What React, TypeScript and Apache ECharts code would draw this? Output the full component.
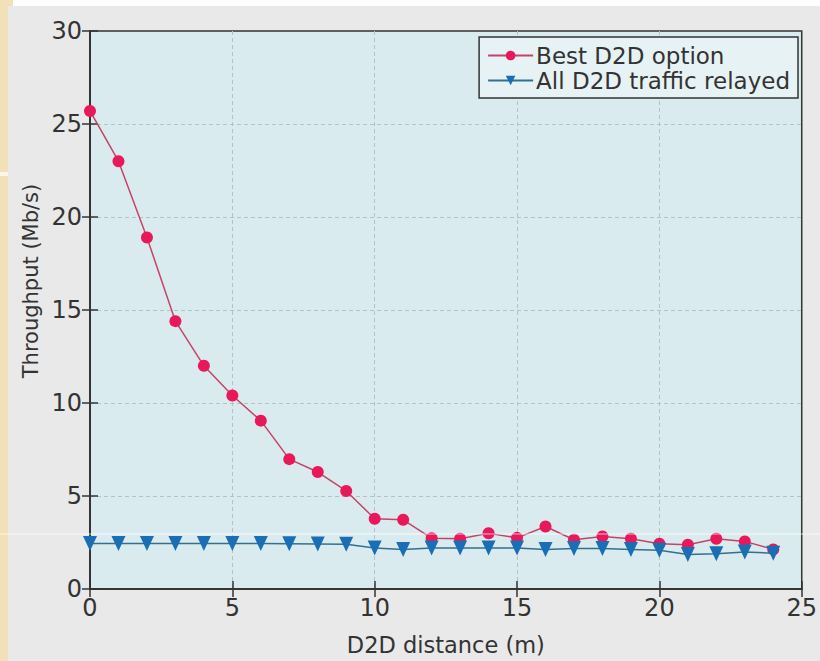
import React, { useEffect, useRef } from "react";
import * as echarts from "echarts";

const distances = [0, 1, 2, 3, 4, 5, 6, 7, 8, 9, 10, 11, 12, 13, 14, 15, 16, 17, 18, 19, 20, 21, 22, 23, 24];
const bestD2D = [25.7, 23.0, 18.9, 14.4, 12.0, 10.4, 9.05, 6.98, 6.29, 5.27, 3.78, 3.72, 2.73, 2.7, 3.0, 2.75, 3.36, 2.65, 2.82, 2.7, 2.43, 2.38, 2.7, 2.56, 2.13];
const allRelayed = [2.45, 2.45, 2.45, 2.45, 2.45, 2.44, 2.44, 2.43, 2.42, 2.4, 2.2, 2.13, 2.2, 2.2, 2.2, 2.2, 2.13, 2.18, 2.18, 2.13, 2.08, 1.85, 1.9, 1.99, 1.92];
const seriesNames = ["Best D2D option", "All D2D traffic relayed"];
const xTicks = { min: 0, max: 25, interval: 5 };
const yTicks = { min: 0, max: 30, interval: 5 };

const FONT = "'DejaVu Sans', 'Noto Sans', sans-serif";

export default function App() {
  const ref = useRef<HTMLDivElement>(null);
  useEffect(() => {
    if (!ref.current) return;
    const chart = echarts.init(ref.current, undefined, { renderer: "svg" });
    const hiddenAxis = {
      axisLine: { show: true, lineStyle: { color: "#333", width: 1.5 } },
      axisTick: { show: true, inside: true, length: 8, lineStyle: { color: "#333", width: 1.5 } },
      axisLabel: { show: false },
      splitLine: { show: false },
    };
    const gridLine = { show: true, showMinLine: false, showMaxLine: false, lineStyle: { color: "#b4c2c6", type: [4, 3], width: 1 } };
    chart.setOption({
      animation: false,
      backgroundColor: "#e9e9e9",
      textStyle: { fontFamily: FONT },
      graphic: [
        { type: "rect", z: -10, shape: { x: 0, y: 0, width: 8, height: 661 }, style: { fill: "#f1e0b8" } },
        { type: "rect", z: -10, shape: { x: 0, y: 0, width: 13, height: 6 }, style: { fill: "#f1e0b8" } },
        { type: "rect", z: -10, shape: { x: 13, y: 0, width: 807, height: 6 }, style: { fill: "#ffffff" } },
        { type: "rect", z: -9, shape: { x: 0, y: 172, width: 8, height: 4 }, style: { fill: "#fbf6ea" } },
        { type: "line", z: 100, shape: { x1: 0, y1: 534, x2: 820, y2: 534 }, style: { stroke: "#ffffff", lineWidth: 1, opacity: 0.7 } },
        {
          type: "text",
          x: 31,
          y: 281,
          rotation: Math.PI / 2,
          style: { text: "Throughput (Mb/s)", font: `21px ${FONT}`, fill: "#333", align: "center", verticalAlign: "middle" },
        },
      ],
      grid: {
        left: 90,
        right: 17,
        top: 31,
        bottom: 67,
        show: true,
        backgroundColor: "#d9ebee",
        borderColor: "#333",
        borderWidth: 1.5,
      },
      legend: {
        orient: "vertical",
        right: 22,
        top: 37,
        padding: [7, 8, 6, 8],
        itemWidth: 45,
        itemHeight: 12,
        itemGap: 2,
        backgroundColor: "#e6f2f4",
        borderColor: "#333",
        borderWidth: 1.5,
        borderRadius: 0,
        textStyle: { fontSize: 23, color: "#333", fontFamily: FONT, padding: [0, 0, 0, -2] },
        data: seriesNames,
      },
      xAxis: [
        {
          type: "value",
          ...xTicks,
          name: "D2D distance (m)",
          nameLocation: "middle",
          nameGap: 44,
          nameTextStyle: { fontSize: 22.5, color: "#333", fontFamily: FONT },
          axisLine: { show: true, lineStyle: { color: "#333", width: 1.5 } },
          axisTick: { show: true, inside: true, length: 8, lineStyle: { color: "#333", width: 1.5 } },
          axisLabel: { fontSize: 24, color: "#333", margin: 7, fontFamily: FONT },
          splitLine: gridLine,
        },
        { type: "value", position: "top", ...xTicks, ...hiddenAxis },
      ],
      yAxis: [
        {
          type: "value",
          ...yTicks,
          axisLine: { show: true, lineStyle: { color: "#333", width: 1.5 } },
          axisTick: { show: true, inside: true, length: 8, lineStyle: { color: "#333", width: 1.5 } },
          axisLabel: { fontSize: 24, color: "#333", margin: 8, fontFamily: FONT },
          splitLine: gridLine,
        },
        { type: "value", position: "right", ...yTicks, ...hiddenAxis },
      ],
      series: [
        {
          name: seriesNames[0],
          type: "line",
          data: distances.map((d, i) => [d, bestD2D[i]]),
          symbol: "circle",
          symbolSize: 12,
          itemStyle: { color: "#e8185a" },
          lineStyle: { color: "#c44466", width: 1.5 },
          z: 3,
        },
        {
          name: seriesNames[1],
          type: "line",
          data: distances.map((d, i) => [d, allRelayed[i]]),
          symbol: "triangle",
          symbolRotate: 180,
          symbolSize: [14, 15],
          itemStyle: { color: "#1a6eb4" },
          lineStyle: { color: "#33708f", width: 1.5 },
          z: 4,
        },
      ],
    });
    return () => chart.dispose();
  }, []);
  return <div ref={ref} style={{ position: "absolute", left: 0, top: 0, width: 820, height: 661 }} />;
}
